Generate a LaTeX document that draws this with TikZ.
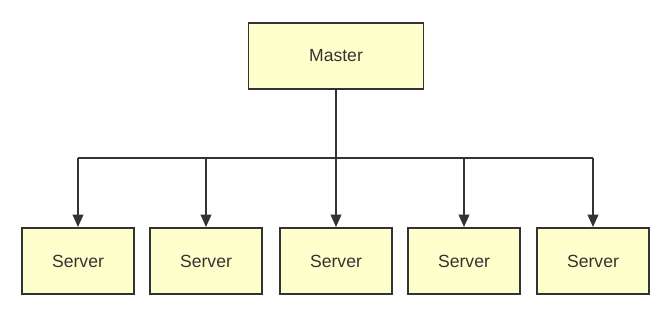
\documentclass[tikz,border=0pt]{standalone}
\usepackage{xcolor}
\usepackage{fontspec}
\setmainfont{Liberation Sans}
\usepackage{tikz}
\usetikzlibrary{arrows.meta, calc}

\definecolor{boxfill}{RGB}{255,255,204}
\definecolor{boxline}{RGB}{51,51,51}

\begin{document}
\begin{tikzpicture}[
    box/.style={draw=boxline, line width=1.1pt, fill=boxfill, text=boxline,
        font=\fontsize{10}{12}\selectfont, minimum height=1.32cm},
    link/.style={draw=boxline, line width=1.1pt},
    tip/.style={link, -{Triangle[length=7pt,width=6pt]}}
]
\useasboundingbox (0,0) rectangle (13.4,6.32);

% Master
\node[box, minimum width=3.5cm] (master) at (6.72,5.2) {Master};

% Servers
\foreach \x [count=\i] in {1.56,4.12,6.72,9.28,11.86}
    \node[box, minimum width=2.24cm] (server\i) at (\x,1.1) {Server};

% Bus
\coordinate (busL) at ($(server1.north)+(0,1.38)$);
\coordinate (busR) at ($(server5.north)+(0,1.38)$);
\draw[link] (master.south) -- (master.south |- busL);
\draw[link] (busL) -- (busR);

% Arrows
\foreach \i in {1,...,5}
    \draw[tip] (server\i.north |- busL) -- (server\i.north);

\end{tikzpicture}
\end{document}
